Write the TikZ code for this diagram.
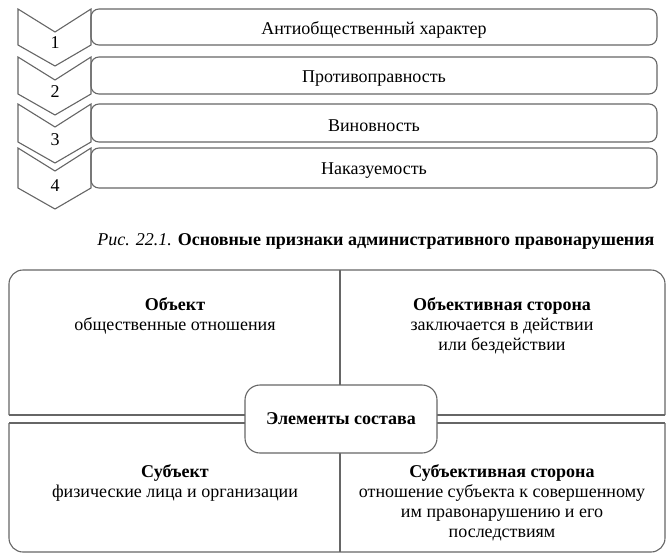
\documentclass[tikz,border=0pt]{standalone}
\usepackage{fontspec}
\setmainfont{Liberation Serif}
\begin{document}
\begin{tikzpicture}[x=1pt,y=-1pt,
  ln/.style={draw=black!60,line width=1.1pt},
  chev/.style={ln,fill=white},
  item/.style={ln,rounded corners=8pt},
  txt/.style={font=\fontsize{18}{20}\selectfont,align=center,inner sep=0pt},
  center/.style={ln,fill=white,rounded corners=15pt}]
\useasboundingbox (0,0) rectangle (671,557);
% chevrons and boxes
\foreach \t/\b/\n/\lab [count=\i] in {9/45/1/Антиобщественный характер,57/94/2/Противоправность,104/142/3/Виновность,148/188/4/Наказуемость}{
  \draw[chev] (18,\t) -- (55,\t+23) -- (91,\t) -- (91,\b) -- (55,\b+21) -- (18,\b) -- cycle;
  \node[txt] (n\i) at (55,\b-2) {\n};
  \draw[item] (91,\t) rectangle (657,\b);
  \node[txt] (b\i) at (374,{(\t+\b)/2+3}) {\lab};
}
% caption
\node[txt,font=\fontsize{18}{20}\selectfont] (cap) at (376,241) {\textit{Рис. 22.1.} \textbf{Основные признаки административного правонарушения}};
% bottom grid
\draw[ln,rounded corners=14pt] (9,415) -- (9,270) -- (665,270) -- (665,415);
\draw[ln] (9,415) -- (665,415);
\draw[ln,rounded corners=14pt] (9,423) -- (9,552) -- (665,552) -- (665,423);
\draw[ln] (9,423) -- (665,423);
\draw[ln] (340,270) -- (340,415);
\draw[ln] (340,423) -- (340,552);
\node[center,minimum width=192pt,minimum height=68pt,txt] (el) at (341,419) {\textbf{Элементы состава}};
\node[txt] (obj) at (175,316) {\textbf{Объект}\\общественные отношения};
\node[txt] (objs) at (502,326) {\textbf{Объективная сторона}\\заключается в действии\\или бездействии};
\node[txt] (sub) at (175,483) {\textbf{Субъект}\\физические лица и организации};
\node[txt] (subs) at (502,503) {\textbf{Субъективная сторона}\\отношение субъекта к совершенному\\им правонарушению и его\\последствиям};
\end{tikzpicture}
\end{document}
